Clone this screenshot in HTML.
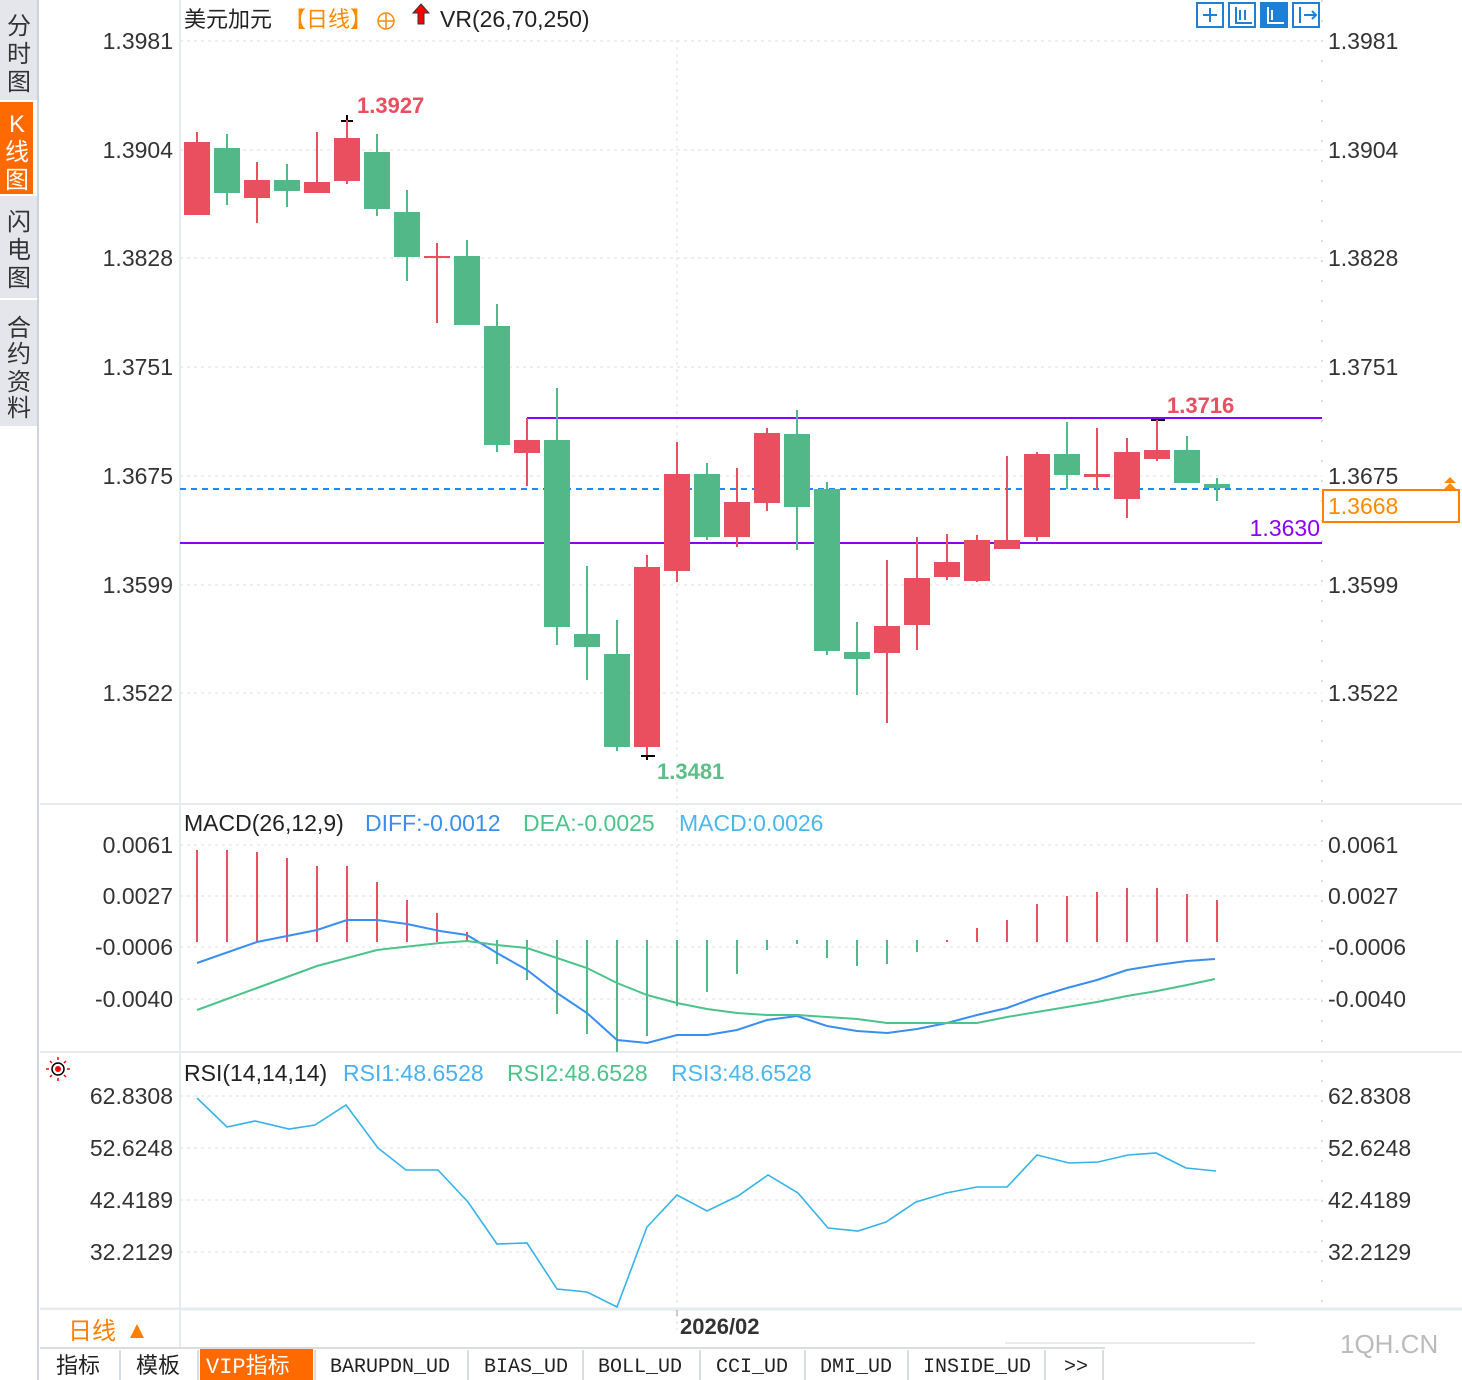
<!DOCTYPE html>
<html><head><meta charset="utf-8"><style>
body{margin:0;width:1462px;height:1380px;background:#fff;overflow:hidden;font-family:"Liberation Sans","Noto Sans CJK SC",sans-serif;}
svg{position:absolute;left:0;top:0}
</style></head><body>
<svg width="1462" height="1380" viewBox="0 0 1462 1380" font-family="Liberation Sans, Noto Sans CJK SC, sans-serif">
<rect x="0" y="0" width="38" height="1380" fill="#fff"/>
<rect x="0" y="0" width="38" height="100" fill="#e4e6ec"/>
<rect x="0" y="102" width="33" height="92" fill="#ff6a00"/>
<rect x="0" y="196" width="38" height="102" fill="#e4e6ec"/>
<rect x="0" y="300" width="38" height="126" fill="#e4e6ec"/>
<line x1="38" y1="0" x2="38" y2="1380" stroke="#ccd4de" stroke-width="2"/>
<g font-size="24" fill="#333" text-anchor="middle">
<text x="19" y="34">分</text><text x="19" y="62">时</text><text x="19" y="90">图</text>
<text x="17" y="132" fill="#fff">K</text><text x="17" y="160" fill="#fff">线</text><text x="17" y="188" fill="#fff">图</text>
<text x="19" y="230">闪</text><text x="19" y="258">电</text><text x="19" y="286">图</text>
<text x="19" y="336">合</text><text x="19" y="362">约</text><text x="19" y="390">资</text><text x="19" y="416">料</text>
</g>
<line x1="180" y1="0" x2="180" y2="1348" stroke="#e6ebf0" stroke-width="2"/>
<line x1="40" y1="804" x2="1462" y2="804" stroke="#e6ebf0" stroke-width="2"/>
<line x1="40" y1="1052" x2="1462" y2="1052" stroke="#e6ebf0" stroke-width="2"/>
<line x1="40" y1="1309" x2="1462" y2="1309" stroke="#e6ebf0" stroke-width="3"/>
<line x1="1322" y1="0" x2="1322" y2="1308" stroke="#d8dde3" stroke-width="2" stroke-dasharray="2,18"/>
<line x1="677" y1="40" x2="677" y2="1330" stroke="#e6ebf0" stroke-width="1.5" stroke-dasharray="3,4"/>
<g stroke="#e8e8e8" stroke-width="1.5" stroke-dasharray="3,4">
<line x1="180" y1="41" x2="1322" y2="41"/><line x1="180" y1="150" x2="1322" y2="150"/><line x1="180" y1="258" x2="1322" y2="258"/><line x1="180" y1="367" x2="1322" y2="367"/><line x1="180" y1="476" x2="1322" y2="476"/><line x1="180" y1="585" x2="1322" y2="585"/><line x1="180" y1="693" x2="1322" y2="693"/>
<line x1="180" y1="845" x2="1322" y2="845"/><line x1="180" y1="896" x2="1322" y2="896"/><line x1="180" y1="947" x2="1322" y2="947"/><line x1="180" y1="999" x2="1322" y2="999"/>
<line x1="180" y1="1096" x2="1322" y2="1096"/><line x1="180" y1="1148" x2="1322" y2="1148"/><line x1="180" y1="1200" x2="1322" y2="1200"/><line x1="180" y1="1252" x2="1322" y2="1252"/>
</g>
<g font-size="23" fill="#333">
<g text-anchor="end">
<text x="173" y="49">1.3981</text><text x="173" y="158">1.3904</text><text x="173" y="266">1.3828</text><text x="173" y="375">1.3751</text><text x="173" y="484">1.3675</text><text x="173" y="593">1.3599</text><text x="173" y="701">1.3522</text>
<text x="173" y="853">0.0061</text><text x="173" y="904">0.0027</text><text x="173" y="955">-0.0006</text><text x="173" y="1007">-0.0040</text>
<text x="173" y="1104">62.8308</text><text x="173" y="1156">52.6248</text><text x="173" y="1208">42.4189</text><text x="173" y="1260">32.2129</text>
</g>
<text x="1328" y="49">1.3981</text><text x="1328" y="158">1.3904</text><text x="1328" y="266">1.3828</text><text x="1328" y="375">1.3751</text><text x="1328" y="484">1.3675</text><text x="1328" y="593">1.3599</text><text x="1328" y="701">1.3522</text>
<text x="1328" y="853">0.0061</text><text x="1328" y="904">0.0027</text><text x="1328" y="955">-0.0006</text><text x="1328" y="1007">-0.0040</text>
<text x="1328" y="1104">62.8308</text><text x="1328" y="1156">52.6248</text><text x="1328" y="1208">42.4189</text><text x="1328" y="1260">32.2129</text>
</g>
<text x="184" y="27" font-size="22" fill="#222">美元加元</text>
<text x="284" y="27" font-size="22" fill="#ff8a00">【日线】</text>
<circle cx="386" cy="21" r="8" fill="none" stroke="#ff8a00" stroke-width="1.5"/><line x1="378" y1="21" x2="394" y2="21" stroke="#ff8a00" stroke-width="1.5"/><line x1="386" y1="13" x2="386" y2="29" stroke="#ff8a00" stroke-width="1.5"/>
<path d="M421 4 L429 13 L424 13 L424 24 L418 24 L418 13 L413 13 Z" fill="#f00" stroke="#333" stroke-width="1"/>
<text x="440" y="27" font-size="23" fill="#222">VR(26,70,250)</text>
<g fill="none" stroke="#1e7fd6" stroke-width="2">
<rect x="1197" y="3" width="26" height="24"/><rect x="1229" y="3" width="26" height="24"/><rect x="1261" y="3" width="26" height="24" fill="#1e7fd6"/><rect x="1293" y="3" width="26" height="24"/>
<path d="M1210 8v14M1203 15h14"/><path d="M1236 7v16h16M1240 10v10M1245 10v10"/><path d="M1268 7v16h16M1272 10v10" stroke="#fff"/><path d="M1300 7v16M1304 15h12M1312 11l4 4-4 4"/>
</g>
<line x1="527" y1="418" x2="1322" y2="418" stroke="#8a00ff" stroke-width="2"/>
<line x1="527" y1="418" x2="527" y2="440" stroke="#8a00ff" stroke-width="2"/>
<line x1="180" y1="543" x2="1322" y2="543" stroke="#8a00ff" stroke-width="2"/>
<line x1="180" y1="489" x2="1322" y2="489" stroke="#1a8cff" stroke-width="2" stroke-dasharray="6,5"/>
<rect x="1323" y="490" width="136" height="32" fill="none" stroke="#ff7f00" stroke-width="2"/>
<text x="1328" y="514" font-size="23" fill="#ff8a00">1.3668</text>
<path d="M1450 477l-6 6h12z M1450 483l-6 6h12z" fill="#ff8a00"/>
<text x="1320" y="536" font-size="23" fill="#8a00ff" text-anchor="end">1.3630</text>
<text x="1167" y="413" font-size="22" fill="#e94f5e" font-weight="bold">1.3716</text>
<text x="357" y="113" font-size="22" fill="#e94f5e" font-weight="bold">1.3927</text>
<text x="657" y="779" font-size="22" fill="#5cbf8a" font-weight="bold">1.3481</text>
<g stroke="#000" stroke-width="2"><path d="M341 121h12M347 115v12"/><path d="M1151 420h14"/><path d="M641 756h14M647 750v10"/></g>
<g stroke-width="2">
<g fill="#e94f5e" stroke="#e94f5e">
<line x1="197" y1="132" x2="197" y2="215"/><rect x="184" y="142" width="26" height="73" stroke="none"/>
<line x1="257" y1="162" x2="257" y2="223"/><rect x="244" y="180" width="26" height="18" stroke="none"/>
<line x1="317" y1="132" x2="317" y2="193"/><rect x="304" y="182" width="26" height="11" stroke="none"/>
<line x1="347" y1="120" x2="347" y2="184"/><rect x="334" y="138" width="26" height="43" stroke="none"/>
<line x1="437" y1="243" x2="437" y2="323"/><rect x="424" y="256" width="26" height="2" stroke="none"/>
<line x1="527" y1="418" x2="527" y2="486"/><rect x="514" y="440" width="26" height="13" stroke="none"/>
<line x1="647" y1="555" x2="647" y2="755"/><rect x="634" y="567" width="26" height="180" stroke="none"/>
<line x1="677" y1="442" x2="677" y2="582"/><rect x="664" y="474" width="26" height="97" stroke="none"/>
<line x1="737" y1="468" x2="737" y2="547"/><rect x="724" y="502" width="26" height="35" stroke="none"/>
<line x1="767" y1="428" x2="767" y2="511"/><rect x="754" y="433" width="26" height="70" stroke="none"/>
<line x1="887" y1="560" x2="887" y2="723"/><rect x="874" y="626" width="26" height="27" stroke="none"/>
<line x1="917" y1="537" x2="917" y2="650"/><rect x="904" y="578" width="26" height="47" stroke="none"/>
<line x1="947" y1="534" x2="947" y2="580"/><rect x="934" y="562" width="26" height="15" stroke="none"/>
<line x1="977" y1="535" x2="977" y2="582"/><rect x="964" y="540" width="26" height="41" stroke="none"/>
<line x1="1007" y1="456" x2="1007" y2="549"/><rect x="994" y="540" width="26" height="9" stroke="none"/>
<line x1="1037" y1="452" x2="1037" y2="541"/><rect x="1024" y="454" width="26" height="83" stroke="none"/>
<line x1="1097" y1="428" x2="1097" y2="490"/><rect x="1084" y="474" width="26" height="3" stroke="none"/>
<line x1="1127" y1="438" x2="1127" y2="518"/><rect x="1114" y="452" width="26" height="47" stroke="none"/>
<line x1="1157" y1="420" x2="1157" y2="461"/><rect x="1144" y="450" width="26" height="9" stroke="none"/>
</g>
<g fill="#52b887" stroke="#52b887">
<line x1="227" y1="134" x2="227" y2="205"/><rect x="214" y="148" width="26" height="45" stroke="none"/>
<line x1="287" y1="164" x2="287" y2="207"/><rect x="274" y="180" width="26" height="11" stroke="none"/>
<line x1="377" y1="134" x2="377" y2="216"/><rect x="364" y="152" width="26" height="57" stroke="none"/>
<line x1="407" y1="190" x2="407" y2="281"/><rect x="394" y="212" width="26" height="45" stroke="none"/>
<line x1="467" y1="240" x2="467" y2="325"/><rect x="454" y="256" width="26" height="69" stroke="none"/>
<line x1="497" y1="304" x2="497" y2="452"/><rect x="484" y="326" width="26" height="119" stroke="none"/>
<line x1="557" y1="388" x2="557" y2="645"/><rect x="544" y="440" width="26" height="187" stroke="none"/>
<line x1="587" y1="566" x2="587" y2="680"/><rect x="574" y="634" width="26" height="13" stroke="none"/>
<line x1="617" y1="620" x2="617" y2="751"/><rect x="604" y="654" width="26" height="93" stroke="none"/>
<line x1="707" y1="463" x2="707" y2="540"/><rect x="694" y="474" width="26" height="63" stroke="none"/>
<line x1="797" y1="410" x2="797" y2="550"/><rect x="784" y="434" width="26" height="73" stroke="none"/>
<line x1="827" y1="482" x2="827" y2="655"/><rect x="814" y="489" width="26" height="162" stroke="none"/>
<line x1="857" y1="622" x2="857" y2="695"/><rect x="844" y="652" width="26" height="7" stroke="none"/>
<line x1="1067" y1="422" x2="1067" y2="489"/><rect x="1054" y="454" width="26" height="21" stroke="none"/>
<line x1="1187" y1="436" x2="1187" y2="483"/><rect x="1174" y="450" width="26" height="33" stroke="none"/>
<line x1="1217" y1="478" x2="1217" y2="501"/><rect x="1204" y="484" width="26" height="4" stroke="none"/>
</g>
</g>
<g font-size="23">
<text x="184" y="831" fill="#222">MACD(26,12,9)</text>
<text x="365" y="831" fill="#3a8ef0">DIFF:-0.0012</text>
<text x="523" y="831" fill="#4cc38a">DEA:-0.0025</text>
<text x="679" y="831" fill="#4ab8f0">MACD:0.0026</text>
</g>
<g stroke="#e94f5e" stroke-width="2">
<line x1="197" y1="850" x2="197" y2="942"/><line x1="227" y1="850" x2="227" y2="942"/><line x1="257" y1="852" x2="257" y2="942"/><line x1="287" y1="858" x2="287" y2="942"/><line x1="317" y1="866" x2="317" y2="942"/><line x1="347" y1="866" x2="347" y2="942"/><line x1="377" y1="882" x2="377" y2="942"/><line x1="407" y1="900" x2="407" y2="942"/><line x1="437" y1="913" x2="437" y2="942"/><line x1="467" y1="932" x2="467" y2="942"/>
<line x1="947" y1="940" x2="947" y2="942"/><line x1="977" y1="928" x2="977" y2="942"/><line x1="1007" y1="920" x2="1007" y2="942"/><line x1="1037" y1="904" x2="1037" y2="942"/><line x1="1067" y1="896" x2="1067" y2="942"/><line x1="1097" y1="892" x2="1097" y2="942"/><line x1="1127" y1="888" x2="1127" y2="942"/><line x1="1157" y1="888" x2="1157" y2="942"/><line x1="1187" y1="894" x2="1187" y2="942"/><line x1="1217" y1="900" x2="1217" y2="942"/>
</g>
<g stroke="#52b887" stroke-width="2">
<line x1="497" y1="940" x2="497" y2="964"/><line x1="527" y1="940" x2="527" y2="980"/><line x1="557" y1="940" x2="557" y2="1014"/><line x1="587" y1="940" x2="587" y2="1034"/><line x1="617" y1="940" x2="617" y2="1052"/><line x1="647" y1="940" x2="647" y2="1036"/><line x1="677" y1="940" x2="677" y2="1006"/><line x1="707" y1="940" x2="707" y2="992"/><line x1="737" y1="940" x2="737" y2="974"/><line x1="767" y1="940" x2="767" y2="950"/><line x1="797" y1="940" x2="797" y2="944"/><line x1="827" y1="940" x2="827" y2="958"/><line x1="857" y1="940" x2="857" y2="966"/><line x1="887" y1="940" x2="887" y2="964"/><line x1="917" y1="940" x2="917" y2="952"/>
</g>
<polyline fill="none" stroke="#3a8ef0" stroke-width="2" points="197,963 257,942 317,930 347,920 377,920 407,924 440,931 467,935 497,953 527,970 557,993 587,1013 617,1040 647,1043 677,1035 707,1035 737,1030 767,1020 797,1016 827,1026 857,1031 887,1033 917,1029 947,1023 977,1015 1007,1008 1037,997 1067,988 1097,980 1127,970 1157,965 1187,961 1215,959"/>
<polyline fill="none" stroke="#4cc38a" stroke-width="2" points="197,1010 257,988 317,966 377,950 440,943 467,941 497,945 527,948 557,958 587,968 617,983 647,995 677,1003 707,1009 737,1013 767,1015 797,1015 827,1017 857,1019 887,1023 947,1023 977,1023 1007,1017 1037,1012 1067,1007 1097,1002 1127,996 1157,991 1187,985 1215,979"/>
<g transform="translate(58,1069)"><circle r="6" fill="none" stroke="#000" stroke-width="1.5"/><circle r="3" fill="#f00"/><g stroke="#f00" stroke-width="1.5"><path d="M0 -9v-3M0 9v3M-9 0h-3M9 0h3M6 -6l2 -2M-6 6l-2 2M6 6l2 2M-6 -6l-2 -2"/></g></g>
<g font-size="23">
<text x="184" y="1081" fill="#222">RSI(14,14,14)</text>
<text x="343" y="1081" fill="#4ab0f0">RSI1:48.6528</text>
<text x="507" y="1081" fill="#4cc38a">RSI2:48.6528</text>
<text x="671" y="1081" fill="#4ab8f0">RSI3:48.6528</text>
</g>
<polyline fill="none" stroke="#35b3e8" stroke-width="1.6" points="197,1098 227,1127 255,1121 289,1129 315,1125 346,1105 378,1148 406,1170 438,1170 468,1202 497,1244 527,1243 557,1289 587,1292 617,1307 647,1227 677,1195 707,1211 738,1196 768,1175 798,1193 828,1228 858,1231 886,1222 916,1202 946,1193 977,1187 1007,1187 1037,1155 1069,1163 1098,1162 1128,1155 1156,1153 1186,1168 1216,1171"/>
<rect x="40" y="1310" width="140" height="36" fill="#fff"/>
<line x1="180" y1="1310" x2="180" y2="1348" stroke="#e6ebf0" stroke-width="2"/>
<text x="68" y="1339" font-size="24" fill="#ff7f00">日线</text>
<path d="M130 1338l7 -14 7 14z" fill="#ff7f00"/>
<line x1="677" y1="1310" x2="677" y2="1316" stroke="#999"/>
<text x="680" y="1334" font-size="22" fill="#333" font-weight="bold">2026/02</text>
<line x1="1005" y1="1343" x2="1255" y2="1343" stroke="#e6ebf0" stroke-width="2"/>
<text x="1340" y="1353" font-size="26" fill="#bbb">1QH.CN</text>
<line x1="40" y1="1348" x2="1105" y2="1348" stroke="#d8dde3" stroke-width="2"/>
<rect x="200" y="1349" width="113" height="31" fill="#ff6a00"/>
<g font-size="22" fill="#222" font-family="Liberation Mono, Noto Sans CJK SC, monospace">
<text x="56" y="1373">指标</text><text x="136" y="1373">模板</text><text x="206" y="1373" fill="#fff">VIP指标</text>
<text x="330" y="1372" font-size="20">BARUPDN_UD</text><text x="484" y="1372" font-size="20">BIAS_UD</text><text x="598" y="1372" font-size="20">BOLL_UD</text><text x="716" y="1372" font-size="20">CCI_UD</text><text x="820" y="1372" font-size="20">DMI_UD</text><text x="923" y="1372" font-size="20">INSIDE_UD</text><text x="1064" y="1372" font-size="20">&gt;&gt;</text>
</g>
<g stroke="#d8dde3" stroke-width="2">
<line x1="120" y1="1350" x2="120" y2="1380"/><line x1="198" y1="1350" x2="198" y2="1380"/><line x1="315" y1="1350" x2="315" y2="1380"/><line x1="468" y1="1350" x2="468" y2="1380"/><line x1="583" y1="1350" x2="583" y2="1380"/><line x1="700" y1="1350" x2="700" y2="1380"/><line x1="805" y1="1350" x2="805" y2="1380"/><line x1="908" y1="1350" x2="908" y2="1380"/><line x1="1045" y1="1350" x2="1045" y2="1380"/><line x1="1103" y1="1350" x2="1103" y2="1380"/>
</g>
</svg>
</body></html>
